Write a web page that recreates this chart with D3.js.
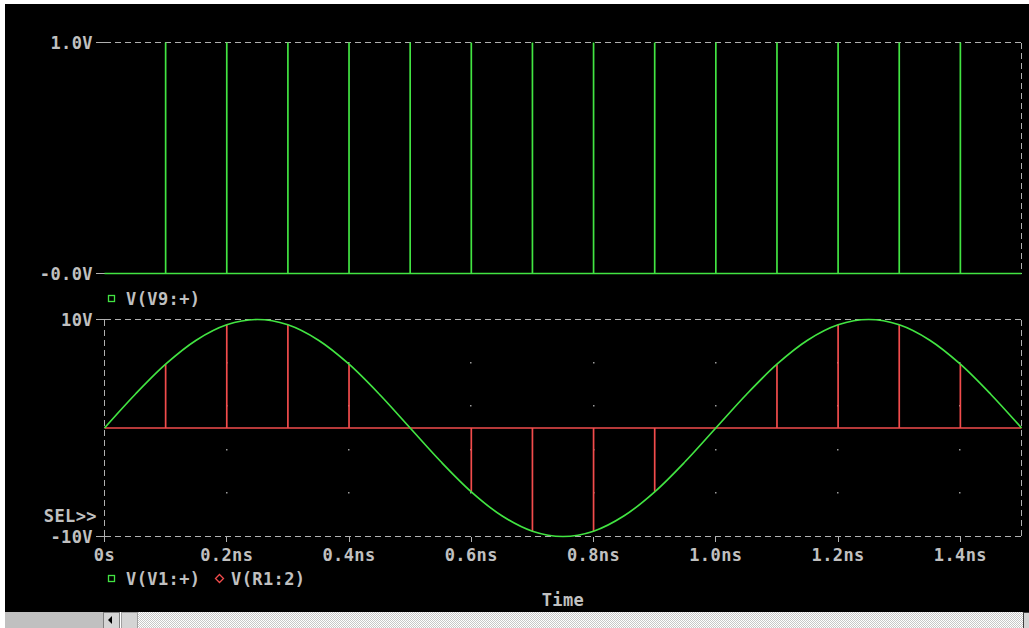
<!DOCTYPE html>
<html><head><meta charset="utf-8">
<script src="https://cdn.jsdelivr.net/npm/d3@7"></script>
<style>
html,body{margin:0;padding:0;background:#fff;overflow:hidden}
svg{display:block}
text{font-family:"DejaVu Sans Mono",monospace;font-weight:bold;font-size:17px;fill:#c0c0c0;letter-spacing:0.4px}
</style></head>
<body>
<svg id="c" width="1029" height="628"></svg>
<script>
// ---- data ----
const xTickValues = [0, 0.2, 0.4, 0.6, 0.8, 1.0, 1.2, 1.4];
const xTickLabels = ["0s", "0.2ns", "0.4ns", "0.6ns", "0.8ns", "1.0ns", "1.2ns", "1.4ns"];
const topYTicks = [1, 0];
const topYLabels = ["1.0V", "-0.0V"];
const botYTicks = [10, -10];
const botYLabels = ["10V", "-10V"];
const gridYValues = [6, 2, -2, -6];

// V(V9:+) pulse train (times in ns, amplitude in V)
const v9Times = [0.1, 0.2, 0.3, 0.4, 0.5, 0.6, 0.7, 0.8, 0.9, 1.0, 1.1, 1.2, 1.3, 1.4];
const v9Values = [1, 1, 1, 1, 1, 1, 1, 1, 1, 1, 1, 1, 1, 1];

// V(V1:+) sine (times in ns, V)
const v1Times = [0, 0.05, 0.1, 0.15, 0.2, 0.25, 0.3, 0.35, 0.4, 0.45, 0.5, 0.55, 0.6, 0.65, 0.7, 0.75,
  0.8, 0.85, 0.9, 0.95, 1.0, 1.05, 1.1, 1.15, 1.2, 1.25, 1.3, 1.35, 1.4, 1.45, 1.5];
const v1Values = [0, 3.09, 5.88, 8.09, 9.51, 10, 9.51, 8.09, 5.88, 3.09, 0, -3.09, -5.88, -8.09, -9.51, -10,
  -9.51, -8.09, -5.88, -3.09, 0, 3.09, 5.88, 8.09, 9.51, 10, 9.51, 8.09, 5.88, 3.09, 0];

// V(R1:2) sampled signal
const r1Times = [0.1, 0.2, 0.3, 0.4, 0.5, 0.6, 0.7, 0.8, 0.9, 1.0, 1.1, 1.2, 1.3, 1.4];
const r1Values = [5.88, 9.51, 9.51, 5.88, 0, -5.88, -9.51, -9.51, -5.88, 0, 5.88, 9.51, 9.51, 5.88];

// ---- drawing ----
const GREEN = "#42e442", RED = "#f24c4c", GRAY = "#b0b0b0";
const svg = d3.select("#c");
const defs = svg.append("defs");
const pat = defs.append("pattern").attr("id","stip").attr("width",2).attr("height",2).attr("patternUnits","userSpaceOnUse");
pat.append("rect").attr("width",2).attr("height",2).attr("fill","#ffffff");
pat.append("rect").attr("width",1).attr("height",1).attr("fill","#c8c8c8");
pat.append("rect").attr("x",1).attr("y",1).attr("width",1).attr("height",1).attr("fill","#c8c8c8");

svg.append("rect").attr("x",5).attr("y",4).attr("width",1024).attr("height",608).attr("fill","#000");

const x = d3.scaleLinear().domain([0,1.5]).range([104.5,1021.5]);
const yTop = d3.scaleLinear().domain([0,1]).range([273.5,42.5]);
const yBot = d3.scaleLinear().domain([-10,10]).range([536.5,319.5]);

const dash = "6,4";
// --- top plot frame ---
svg.append("line").attr("x1",x(0)).attr("x2",x(1.5)).attr("y1",yTop(1)).attr("y2",yTop(1))
  .attr("stroke",GRAY).attr("stroke-dasharray",dash).attr("shape-rendering","crispEdges");
svg.append("line").attr("x1",x(1.5)).attr("x2",x(1.5)).attr("y1",yTop(1)).attr("y2",yTop(0))
  .attr("stroke",GRAY).attr("stroke-dasharray",dash).attr("shape-rendering","crispEdges");
topYTicks.forEach((v,i)=>{
  svg.append("line").attr("x1",96).attr("x2",x(0)).attr("y1",yTop(v)).attr("y2",yTop(v)).attr("stroke",GRAY).attr("shape-rendering","crispEdges");
  svg.append("text").attr("x",93).attr("y",yTop(v)).attr("dy","0.36em").attr("text-anchor","end").text(topYLabels[i]);
});
// V9 baseline and pulses
svg.append("line").attr("x1",x(0)).attr("x2",x(1.5)).attr("y1",yTop(0)).attr("y2",yTop(0))
  .attr("stroke",GREEN).attr("stroke-width",1.5);
svg.append("g").selectAll("line").data(v9Times).join("line")
  .attr("x1",d=>x(d)).attr("x2",d=>x(d)).attr("y1",yTop(0)).attr("y2",(d,i)=>yTop(v9Values[i]))
  .attr("stroke",GREEN).attr("stroke-width",1.7);

// top legend
svg.append("rect").attr("x",108.5).attr("y",295.5).attr("width",6).attr("height",6).attr("fill","none").attr("stroke",GREEN).attr("stroke-width",1.3);
svg.append("text").attr("x",126).attr("y",298.5).attr("dy","0.36em").text("V(V9:+)");

// --- bottom plot frame ---
const frame = [[x(0),yBot(10),x(1.5),yBot(10)],[x(1.5),yBot(10),x(1.5),yBot(-10)],
  [x(0),yBot(-10),x(1.5),yBot(-10)],[x(0),yBot(10),x(0),yBot(-10)]];
svg.append("g").selectAll("line").data(frame).join("line")
  .attr("x1",d=>d[0]).attr("y1",d=>d[1]).attr("x2",d=>d[2]).attr("y2",d=>d[3])
  .attr("stroke",GRAY).attr("stroke-dasharray",dash).attr("shape-rendering","crispEdges");
botYTicks.forEach((v,i)=>{
  svg.append("line").attr("x1",96).attr("x2",x(0)).attr("y1",yBot(v)).attr("y2",yBot(v)).attr("stroke",GRAY).attr("shape-rendering","crispEdges");
  svg.append("text").attr("x",93).attr("y",yBot(v)).attr("dy","0.36em").attr("text-anchor","end").text(botYLabels[i]);
});
svg.append("line").attr("x1",x(0)).attr("x2",x(0)).attr("y1",yBot(-10)-5).attr("y2",yBot(-10)+5).attr("stroke",GRAY).attr("shape-rendering","crispEdges");
svg.append("text").attr("x",97).attr("y",516).attr("dy","0.36em").attr("text-anchor","end").text("SEL>>");

// grid dots
const dots = [];
xTickValues.slice(1).forEach(t=>gridYValues.forEach(v=>dots.push([t,v])));
svg.append("g").selectAll("rect").data(dots).join("rect")
  .attr("x",d=>Math.round(x(d[0]))-1).attr("y",d=>Math.round(yBot(d[1]))-1).attr("width",1.5).attr("height",1.5)
  .attr("fill","#9a9a9a");

// x ticks & labels
svg.append("g").selectAll("line").data(xTickValues.slice(1)).join("line")
  .attr("x1",d=>x(d)).attr("x2",d=>x(d)).attr("y1",yBot(-10)).attr("y2",yBot(-10)+5).attr("stroke",GRAY).attr("shape-rendering","crispEdges");
svg.append("g").selectAll("text").data(xTickValues).join("text")
  .attr("x",d=>x(d)).attr("y",555).attr("dy","0.36em").attr("text-anchor","middle")
  .text((d,i)=>xTickLabels[i]);
svg.append("text").attr("x",563).attr("y",600).attr("dy","0.36em").attr("text-anchor","middle").text("Time");

// R1 sampled signal
svg.append("line").attr("x1",x(0)).attr("x2",x(1.5)).attr("y1",yBot(0)).attr("y2",yBot(0))
  .attr("stroke",RED).attr("stroke-width",1.5);
svg.append("g").selectAll("line").data(r1Times).join("line")
  .attr("x1",d=>x(d)).attr("x2",d=>x(d)).attr("y1",yBot(0)).attr("y2",(d,i)=>yBot(r1Values[i]))
  .attr("stroke",RED).attr("stroke-width",1.7);

// V1 sine
const line = d3.line().x(d=>x(d[0])).y(d=>yBot(d[1])).curve(d3.curveCatmullRom);
svg.append("path").datum(v1Times.map((t,i)=>[t,v1Values[i]])).attr("d",line)
  .attr("fill","none").attr("stroke",GREEN).attr("stroke-width",1.7);

// bottom legend
svg.append("rect").attr("x",108.5).attr("y",575.5).attr("width",6).attr("height",6).attr("fill","none").attr("stroke",GREEN).attr("stroke-width",1.3);
svg.append("text").attr("x",126).attr("y",578.5).attr("dy","0.36em").text("V(V1:+)");
svg.append("path").attr("d","M219.5,574.5 L223.5,578.5 L219.5,582.5 L215.5,578.5 Z").attr("fill","none").attr("stroke",RED).attr("stroke-width",1.3);
svg.append("text").attr("x",231).attr("y",578.5).attr("dy","0.36em").text("V(R1:2)");

// scrollbar
svg.append("rect").attr("x",5).attr("y",612).attr("width",98).attr("height",16).attr("fill","#c0c0c0");
svg.append("rect").attr("x",138).attr("y",612).attr("width",885).attr("height",16).attr("fill","url(#stip)");
svg.append("rect").attr("x",103.5).attr("y",612.5).attr("width",16).attr("height",16).attr("fill","#d4d4d4").attr("stroke","#808080");
svg.append("path").attr("d","M108,620 L112,616 L112,624 Z").attr("fill","#000");
svg.append("rect").attr("x",121.5).attr("y",612.5).attr("width",16).attr("height",16).attr("fill","#d4d4d4").attr("stroke","#a0a0a0");
svg.append("rect").attr("x",1023.5).attr("y",612.5).attr("width",6).attr("height",16).attr("fill","#d4d4d4").attr("stroke","#404040");
</script>
</body></html>
